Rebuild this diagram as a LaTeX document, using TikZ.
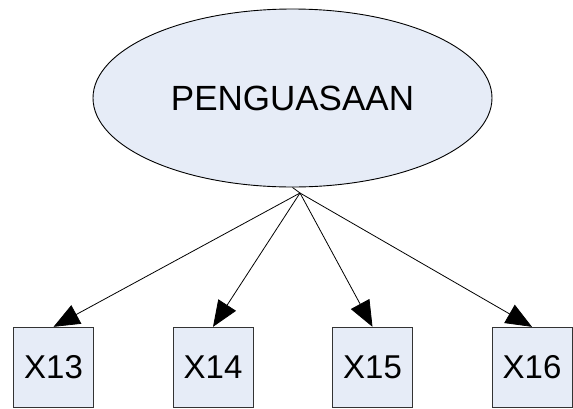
\documentclass[tikz,border=0pt]{standalone}
\usepackage{fontspec}
\setmainfont{Liberation Sans}
\usetikzlibrary{arrows.meta,shapes,positioning}
\definecolor{boxblue}{RGB}{230,236,247}
\tikzset{latent/.style={ellipse, draw=black, fill=boxblue, line width=0.9pt, minimum width=399pt, minimum height=178pt, inner sep=0pt, font=\fontsize{35}{40}\selectfont}}
\tikzset{item/.style={rectangle, draw=black!80, fill=boxblue, line width=0.9pt, minimum width=80pt, minimum height=80pt, inner sep=0pt, font=\fontsize{33}{38}\selectfont}}
\tikzset{load/.style={line width=0.8pt, -{Triangle[length=26pt,width=21pt]}}}

\begin{document}
\begin{tikzpicture}[x=1pt,y=-1pt]

\useasboundingbox (0,0) rectangle (573,408);

\node[latent] (peng) at (292.5,98) {PENGUASAAN};

\coordinate (apex) at (300,193);
\draw[line width=0.8pt] (peng.south) -- (apex);

\node[item] (x13) at (53.5,367.3) {X13};
\node[item] (x14) at (213,367.3) {X14};
\node[item] (x15) at (372.5,367.3) {X15};
\node[item] (x16) at (532,367.3) {X16};

\foreach \i in {x13,x14,x15,x16}
  \draw[load] (apex) -- (\i.north);

\end{tikzpicture}
\end{document}
